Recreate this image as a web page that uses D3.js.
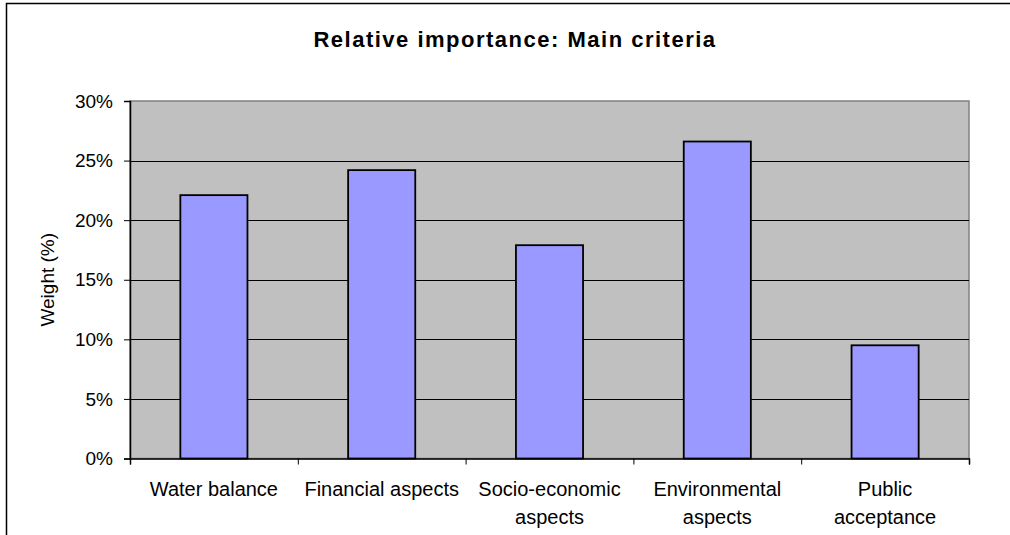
<!DOCTYPE html>
<html><head><meta charset="utf-8">
<script src="https://cdn.jsdelivr.net/npm/d3@7"></script>
<style>body{margin:0;background:#fff}svg{display:block}text{font-family:"Liberation Sans",Arial,sans-serif;fill:#000}</style>
</head><body><svg id="c" width="1010" height="535"></svg>
<script>
const categories = [["Water balance"],["Financial aspects"],["Socio-economic","aspects"],["Environmental","aspects"],["Public","acceptance"]];
const weights = [22.1, 24.2, 17.9, 26.6, 9.5];
const yTicks = [0,5,10,15,20,25,30];

const svg = d3.select("#c");
const L=130, R=969, T=101, B=458.5;
const FONT = "Liberation Sans, Arial, sans-serif";
// outer chart border (top and left visible)
svg.append("path").attr("d","M6.5,540 V3.5 H1015").attr("fill","none").attr("stroke","#000").attr("stroke-width",1.5);

const x = d3.scaleBand().domain(d3.range(categories.length)).range([L,R]).paddingInner(0.6).paddingOuter(0.3);
const y = d3.scaleLinear().domain([0,30]).range([B,T]);

svg.append("rect").attr("x",L).attr("y",T).attr("width",R-L).attr("height",B-T).attr("fill","#c0c0c0").attr("stroke","#808080").attr("stroke-width",1.5);

// gridlines
svg.append("g").selectAll("line").data(yTicks.filter(d=>d>0&&d<30)).join("line")
  .attr("x1",L).attr("x2",R).attr("y1",d=>Math.round(y(d))+0.5).attr("y2",d=>Math.round(y(d))+0.5)
  .attr("stroke","#000").attr("stroke-width",1);

// bars
svg.append("g").selectAll("rect").data(weights).join("rect")
  .attr("x",(d,i)=>x(i)).attr("width",x.bandwidth())
  .attr("y",d=>y(d)).attr("height",d=>B-y(d))
  .attr("fill","#9999ff").attr("stroke","#000").attr("stroke-width",1.8);

// y axis
const ya = svg.append("g").attr("transform",`translate(${L},0)`)
  .call(d3.axisLeft(y).tickValues(yTicks).tickFormat(d=>d+"%").tickSize(6).tickPadding(11));
ya.attr("font-size",19).attr("font-family",FONT);
ya.select(".domain").attr("stroke","#000").attr("stroke-width",1.5);
ya.selectAll("text").attr("fill","#000");

// x axis
const xs = d3.scaleLinear().domain([0,categories.length]).range([L,R]);
const xa = svg.append("g").attr("transform",`translate(0,${B})`)
  .call(d3.axisBottom(xs).tickValues(d3.range(categories.length+1)).tickFormat("").tickSize(6));
xa.select(".domain").attr("stroke","#000").attr("stroke-width",1.5);

svg.append("g").selectAll("text").data(categories).join("text")
  .attr("x",(d,i)=>x(i)+x.bandwidth()/2).attr("y",B+37)
  .attr("text-anchor","middle").attr("font-size",20)
  .selectAll("tspan").data(d=>d).join("tspan")
  .attr("x",function(){return this.parentNode.getAttribute("x");})
  .attr("dy",(d,j)=>j===0?0:28.5).text(d=>d);

svg.append("text").attr("x",515).attr("y",46.5).attr("text-anchor","middle")
  .attr("font-size",22).attr("font-weight","bold").attr("letter-spacing","1.5px")
  .text("Relative importance: Main criteria");

svg.append("text").attr("transform",`translate(54,${(T+B)/2}) rotate(-90)`)
  .attr("text-anchor","middle").attr("font-size",19).text("Weight (%)");
</script></body></html>
